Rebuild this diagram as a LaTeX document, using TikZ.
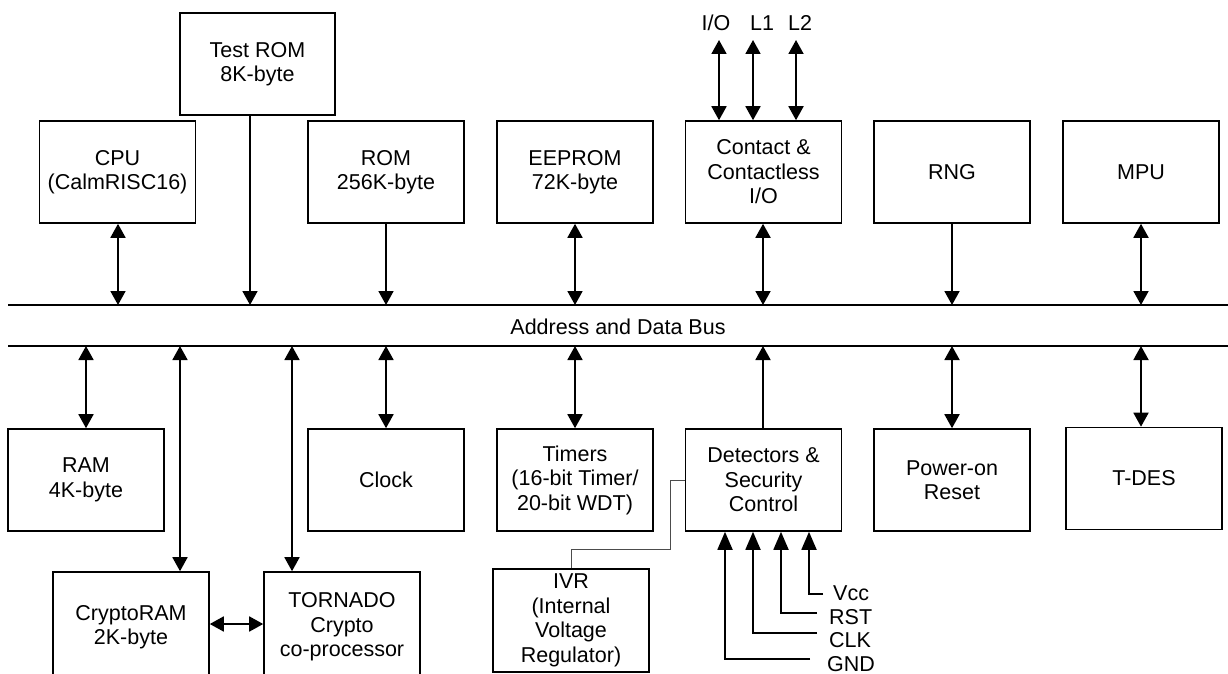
\documentclass[tikz,border=0pt]{standalone}
\usepackage{fontspec}
\setmainfont{Liberation Sans}
\usetikzlibrary{arrows.meta}
\begin{document}
\begin{tikzpicture}[x=1pt,y=-1pt,
  txt/.style={font=\fontsize{21.5}{24.5}\selectfont},
  blk/.style={txt, draw, line width=1.6pt, minimum width=156pt, minimum height=102pt, inner sep=0pt, align=center},
  lbl/.style={txt, inner sep=0pt},
  bus/.style={line width=1.6pt},
  sgl/.style={line width=1.8pt, -{Triangle[length=14pt,width=15pt]}},
  dbl/.style={line width=1.8pt, {Triangle[length=14pt,width=15pt]}-{Triangle[length=14pt,width=15pt]}},
  pinarr/.style={line width=1.8pt, -{Triangle[length=18pt,width=15pt]}},
  wire/.style={line width=0.9pt, black!70}]
\useasboundingbox (0,0) rectangle (1228,674);
\clip (0,0) rectangle (1228,674);
% bus
\coordinate (bTL) at (8,305); \coordinate (bTR) at (1228,305);
\coordinate (bBL) at (8,346); \coordinate (bBR) at (1228,346);
\draw[bus] (bTL) -- (bTR);
\draw[bus] (bBL) -- (bBR);
\node[lbl, anchor=base] (buslbl) at (618,334) {Address and Data Bus};
% top row
\node[blk] (cpu) at (117.5,172) {CPU\\(CalmRISC16)};
\node[blk, minimum width=155pt] (trom) at (257.5,64) {Test ROM\\8K-byte};
\node[blk] (rom) at (386,172) {ROM\\256K-byte};
\node[blk] (eep) at (575,172) {EEPROM\\72K-byte};
\node[blk] (cio) at (763.5,172) {Contact \&\\Contactless\\I/O};
\node[blk] (rng) at (952,172) {RNG};
\node[blk] (mpu) at (1141,172) {MPU};
% bottom row
\node[blk] (ram) at (86,480) {RAM\\4K-byte};
\node[blk] (clk) at (386,480) {Clock};
\node[blk] (tim) at (575,480) {Timers\\(16-bit Timer/\\20-bit WDT)};
\node[blk] (det) at (763.5,480) {Detectors \&\\Security\\Control};
\node[blk] (por) at (952,480) {Power-on\\Reset};
\node[blk] (tdes) at (1144,478.5) {T-DES};
\node[blk, minimum height=110pt] (cram) at (131,627) {CryptoRAM\\2K-byte};
\node[blk, minimum height=110pt] (torn) at (342,627) {TORNADO\\Crypto\\co-processor};
\node[blk, minimum height=103pt] (ivr) at (571,620.5) {IVR\\(Internal\\Voltage\\Regulator)};
% x columns
\coordinate (xcpu) at (118,0);
\coordinate (xtr) at (250,0);
\coordinate (xmid) at (763,0);
\coordinate (xcr) at (180,0);
\coordinate (xto) at (292,0);
\coordinate (xtd) at (1141,0);
\coordinate (yct) at (0,624);
% top connectors
\draw[dbl] (cpu.south -| xcpu) -- (xcpu |- bTL);
\draw[sgl] (trom.south -| xtr) -- (xtr |- bTL);
\draw[sgl] (rom.south) -- (rom.south |- bTL);
\draw[dbl] (eep.south) -- (eep.south |- bTL);
\draw[dbl] (cio.south -| xmid) -- (xmid |- bTL);
\draw[sgl] (rng.south) -- (rng.south |- bTL);
\draw[dbl] (mpu.south) -- (mpu.south |- bTL);
% bottom connectors
\draw[dbl] (ram.north |- bBL) -- (ram.north);
\draw[dbl] (xcr |- bBL) -- (cram.north -| xcr);
\draw[dbl] (xto |- bBL) -- (torn.north -| xto);
\draw[dbl] (clk.north |- bBL) -- (clk.north);
\draw[dbl] (tim.north |- bBL) -- (tim.north);
\draw[sgl] (det.north -| xmid) -- (xmid |- bBL);
\draw[dbl] (por.north |- bBL) -- (por.north);
\draw[dbl] (xtd |- bBL) -- (tdes.north -| xtd);
\draw[dbl] (cram.east |- yct) -- (torn.west |- yct);
% I/O lines
\coordinate (pIO) at (719,40);
\coordinate (pL1) at (753,40);
\coordinate (pL2) at (796,40);
\draw[dbl] (pIO) -- (pIO |- cio.north);
\draw[dbl] (pL1) -- (pL1 |- cio.north);
\draw[dbl] (pL2) -- (pL2 |- cio.north);
\node[lbl, anchor=base] (tIO) at (716,30.5) {I/O};
\node[lbl, anchor=base] (tL1) at (762,30.5) {L1};
\node[lbl, anchor=base] (tL2) at (800,30.5) {L2};
% IVR wire
\coordinate (ivr1) at (670,549);
\draw[wire] (ivr.north) |- (ivr1) |- (det.west);
% pins
\coordinate (xG) at (725,0);
\coordinate (xC) at (753,0);
\coordinate (xR) at (781,0);
\coordinate (xV) at (809,0);
\coordinate (eV) at (823,594);
\coordinate (eR) at (817,613);
\coordinate (eC) at (817,633);
\coordinate (eG) at (810,659);
\draw[pinarr] (eV) -| (det.south -| xV);
\draw[pinarr] (eR) -| (det.south -| xR);
\draw[pinarr] (eC) -| (det.south -| xC);
\draw[pinarr] (eG) -| (det.south -| xG);
\node[lbl, anchor=base west] (lV) at (833,600) {Vcc};
\node[lbl, anchor=base west] (lR) at (829,624) {RST};
\node[lbl, anchor=base west] (lC) at (829,647) {CLK};
\node[lbl, anchor=base west] (lG) at (827,671) {GND};
\end{tikzpicture}
\end{document}
